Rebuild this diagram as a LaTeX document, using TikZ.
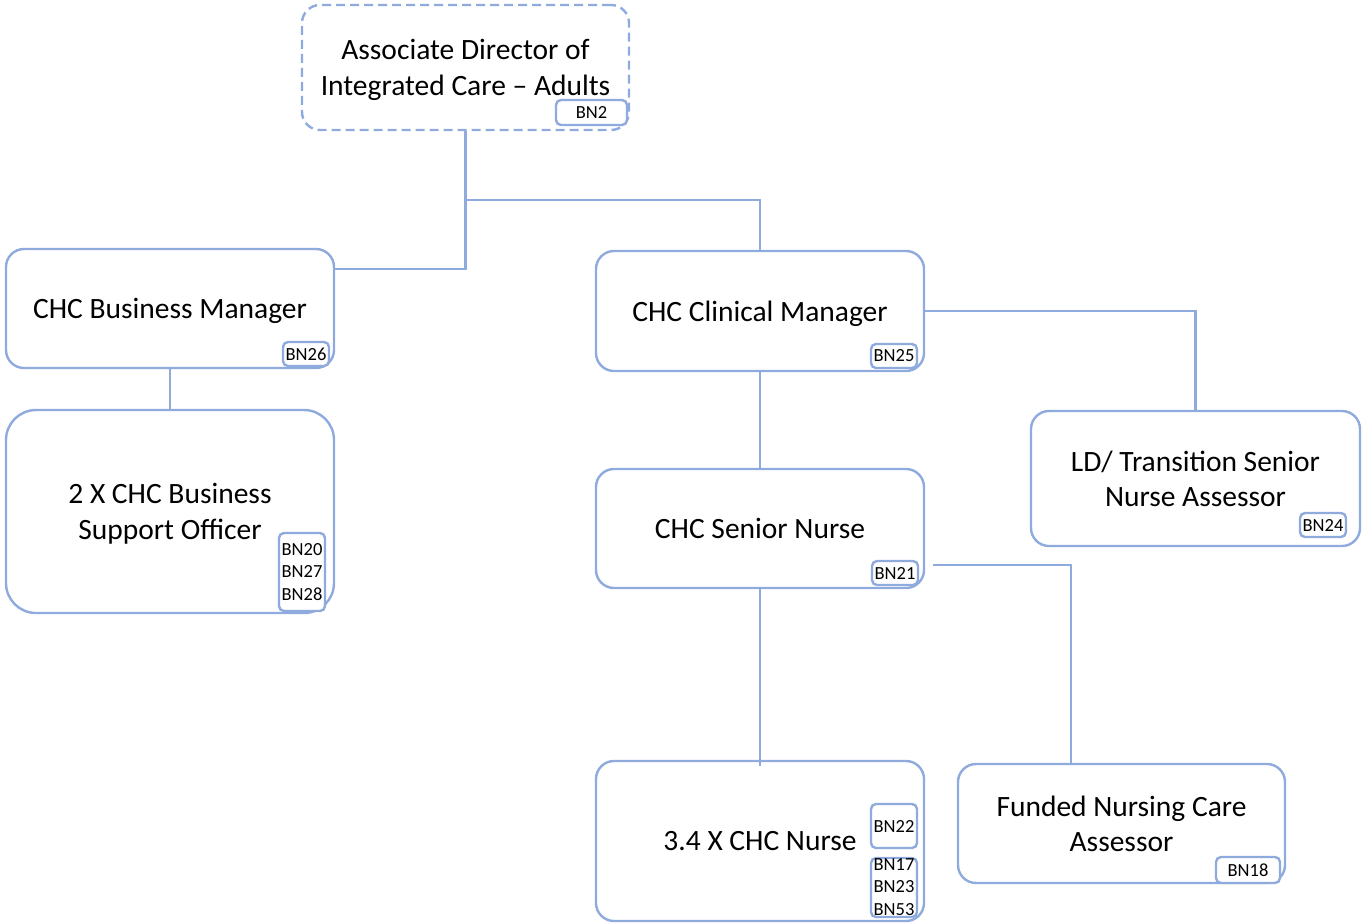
\documentclass[tikz,border=0pt]{standalone}
\usepackage{fontspec}
\setmainfont{Carlito}
\usetikzlibrary{calc}
\definecolor{ln}{RGB}{143,170,220}
\begin{document}
\begin{tikzpicture}[x=1pt,y=-1pt,
  box/.style={draw=ln,line width=2.4pt,rounded corners=18pt,inner sep=0pt,align=center,text depth=0pt,font=\fontsize{29.5}{35.5}\selectfont},
  tag/.style={draw=ln,line width=2.4pt,rounded corners=5pt,fill=white,inner sep=0pt,align=center,font=\fontsize{18.5}{22.5}\selectfont},
  tagtext/.style={inner sep=0pt,align=center,font=\fontsize{18.5}{22.5}\selectfont},
  conn/.style={draw=ln,line width=2.4pt}]
\useasboundingbox (0,0) rectangle (1364,922);
% boxes
\node[box,dashed,dash pattern=on 9pt off 5pt,minimum width=327pt,minimum height=125pt] (top) at (465.5,67.5) {Associate Director of\\Integrated Care -- Adults};
\node[box,minimum width=328pt,minimum height=119pt] (bm) at (170,308.5) {CHC Business Manager};
\node[box,rounded corners=30pt,minimum width=328pt,minimum height=203pt] (bso) at (170,511.5) {2 X CHC Business\\Support Officer};
\node[box,minimum width=328pt,minimum height=120pt] (cm) at (760,311) {CHC Clinical Manager};
\node[box,minimum width=329pt,minimum height=135pt] (ld) at (1195.5,478.5) {LD/ Transition Senior\\Nurse Assessor};
\node[box,minimum width=328pt,minimum height=119pt] (sn) at (760,528.5) {CHC Senior Nurse};
\node[box,minimum width=328pt,minimum height=160pt] (nu) at (760,841) {3.4 X CHC Nurse};
\node[box,minimum width=327pt,minimum height=119pt] (fn) at (1121.5,823.5) {Funded Nursing Care\\Assessor};
% tags
\node[tag,minimum width=71pt,minimum height=25pt] (t2) at (591.5,112.5) {BN2};
\node[tag,minimum width=46pt,minimum height=24pt] (t26) at (306,354) {BN26};
\node[tag,minimum width=46pt,minimum height=78pt] (t20) at (302,572) {BN20\\BN27\\BN28};
\node[tag,minimum width=46pt,minimum height=24pt] (t25) at (894,356) {BN25};
\node[tag,minimum width=46pt,minimum height=24pt] (t24) at (1323,525) {BN24};
\node[tag,minimum width=46pt,minimum height=24pt] (t21) at (895,573) {BN21};
\node[tag,minimum width=46pt,minimum height=44pt] (t22) at (894,826) {BN22};
\node[tag,minimum width=46pt,minimum height=59pt] (t17box) at (894,887.5) {};
\node[tagtext] (t17) at (894,887) {BN17\\BN23\\BN53};
\node[tag,minimum width=64pt,minimum height=26pt] (t18) at (1248,870) {BN18};
% connectors
\coordinate (j1) at ($(top.south)+(0,-68.5pt)$);
\coordinate (bmin) at ($(bm.north east)!0.176!(bm.south east)$);
\draw[conn] (top.south) |- (bmin);
\draw[conn] (j1) -| (cm.north);
\draw[conn] (bm.south) -- (bso.north);
\draw[conn] (cm.east) -| (ld.north);
\draw[conn] (cm.south) -- (sn.north);
\coordinate (nuin) at ([yshift=-6pt]nu.north);
\draw[conn] (sn.south) -- (nuin);
\coordinate (snout) at ([xshift=8pt,yshift=-36.5pt]sn.east);
\coordinate (fnin) at ([xshift=-50.5pt]fn.north);
\draw[conn] (snout) -| (fnin);
\end{tikzpicture}
\end{document}
